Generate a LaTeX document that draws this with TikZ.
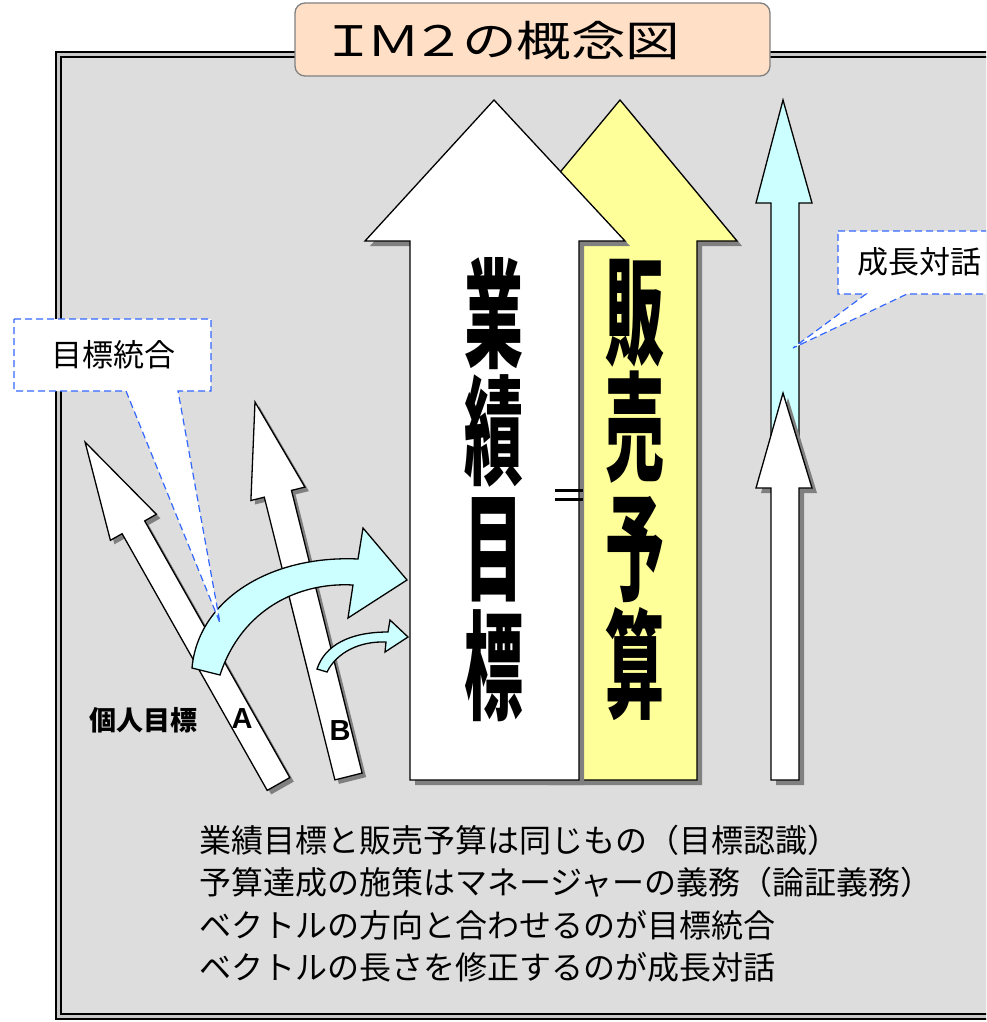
\documentclass[tikz,border=0pt]{standalone}
\usepackage{fontspec}
\setmainfont{Noto Sans CJK JP}
\newfontfamily\lat{Liberation Sans}
\usetikzlibrary{shadows}
\definecolor{bg}{RGB}{221,221,221}
\definecolor{gapc}{RGB}{200,200,200}
\definecolor{peach}{RGB}{255,224,198}
\definecolor{ylw}{RGB}{255,255,153}
\definecolor{cyn}{RGB}{204,255,255}
\definecolor{callblue}{RGB}{51,102,255}
\definecolor{shad}{RGB}{128,128,128}
\begin{document}
\begin{tikzpicture}[x=1pt,y=-1pt,
  arrowbody/.style={draw=black,line width=1.3pt,line join=miter,fill=white},
  withshadow/.style={general shadow={fill=shad,shadow xshift=5pt,shadow yshift=-5pt}},
  smallshadow/.style={general shadow={fill=shad,shadow xshift=4pt,shadow yshift=-4pt}},
  callout/.style={draw=callblue,dash pattern=on 7pt off 4pt,line width=1.2pt,fill=white},
  bigchar/.style={inner sep=0pt,font=\fontsize{118}{118}\selectfont\bfseries},
  linetxt/.style={inner sep=0pt,anchor=west,font=\fontsize{32}{32}\selectfont},
  calltxt/.style={inner sep=0pt,font=\fontsize{31}{31}\selectfont}
]
\useasboundingbox (0,0) rectangle (986,1022);
\clip (0,0) rectangle (986,1022);

% frame with double border
\fill[gapc] (56,52) rectangle (1010,1019);
\draw[line width=2.2pt] (56,52) rectangle (1010,1019);
\fill[bg] (61,57.5) rectangle (1005,1014);
\draw[line width=2pt] (61,57.5) rectangle (1005,1014);

% title
\node[draw=shad,line width=1.3pt,rounded corners=10pt,fill=peach,
      minimum width=475pt,minimum height=73pt,inner sep=0pt] (titlebox) at (532.5,39.5) {};
\node[inner sep=0pt] (titletext) at (501,41)
  {\scalebox{1.3}[1]{\fontsize{42}{42}\selectfont Ｉ\kern-7.5ptＭ\kern-7.5pt２\kern-3ptの概念図}};

% individual arrows A and B
\draw[arrowbody,smallshadow] (85.1,442.1) -- (156.4,514.3) -- (144.7,520.9) -- (289.8,777.6)
  -- (267.2,790.4) -- (122.1,533.7) -- (110.4,540.3) -- cycle;
\draw[arrowbody,smallshadow] (255.0,402.0) -- (304.9,487.1) -- (291.5,490.4) -- (362.1,773.1)
  -- (334.9,779.9) -- (264.3,497.2) -- (250.9,500.5) -- cycle;

% curved cyan arrows
\draw[arrowbody,fill=cyn] (192,668) .. controls (198,600) and (270,555) .. (358,559)
  -- (363,528) -- (407,580) -- (348,618) -- (353,585)
  .. controls (300,582) and (242,608) .. (220,675) -- cycle;
\draw[arrowbody,fill=cyn] (317,669) .. controls (325,645) and (350,632) .. (388,632)
  -- (390,620) -- (408,637) -- (385,652) -- (386,642)
  .. controls (360,641) and (337,652) .. (327,672) -- cycle;

% big arrows
\draw[arrowbody,fill=ylw,withshadow] (620,100) -- (737,241) -- (697,241) -- (697,780)
  -- (543,780) -- (543,241) -- (503,241) -- cycle;
\draw[arrowbody,withshadow] (494,100) -- (625,241) -- (579,241) -- (579,780)
  -- (410,780) -- (410,241) -- (365,241) -- cycle;

% equals sign
\draw[line width=2.6pt] (555,490.5) -- (583,490.5) (555,499.5) -- (583,499.5);

% right arrows
\draw[arrowbody,fill=cyn] (783,100) -- (812,203) -- (799,203) -- (799,470)
  -- (771,470) -- (771,203) -- (756,203) -- cycle;
\draw[arrowbody,withshadow] (783,393) -- (812,488) -- (799,488) -- (799,780)
  -- (771,780) -- (771,488) -- (756,488) -- cycle;

% vertical big texts
\node[bigchar] (g1) at (494,314) {\scalebox{0.5}[1]{業}};
\node[bigchar] (g2) at (494,431) {\scalebox{0.5}[1]{績}};
\node[bigchar] (g3) at (494,550) {\scalebox{0.5}[1]{目}};
\node[bigchar] (g4) at (494,666) {\scalebox{0.5}[1]{標}};
\node[bigchar] (h1) at (635,313) {\scalebox{0.5}[1]{販}};
\node[bigchar] (h2) at (635,427) {\scalebox{0.5}[1]{売}};
\node[bigchar] (h3) at (635,550) {\scalebox{0.5}[1]{予}};
\node[bigchar] (h4) at (635,664) {\scalebox{0.5}[1]{算}};

% callouts
\draw[callout] (14,319) -- (211,319) -- (211,391) -- (178,391) -- (220,623)
  -- (126,391) -- (14,391) -- cycle;
\node[calltxt] (c1) at (113,355) {目標統合};
\draw[callout] (838,231) -- (1000,231) -- (1000,294) -- (907,294) -- (793,348)
  -- (866,294) -- (838,294) -- cycle;
\node[calltxt,anchor=west] (c2) at (857,262) {成長対話};

% labels
\node[inner sep=0pt,font=\fontsize{27}{27}\selectfont\bfseries] (kojin) at (143,720) {個人目標};
\node[inner sep=0pt,font=\lat\fontsize{29}{29}\selectfont\bfseries] (la) at (242,719) {A};
\node[inner sep=0pt,font=\lat\fontsize{29}{29}\selectfont\bfseries] (lb) at (340,731) {B};

% bottom text
\node[linetxt] (t1) at (199,840) {業績目標と販売予算は同じもの（目標認識）};
\node[linetxt] (t2) at (199,882) {予算達成の施策はマネージャーの義務（論証義務）};
\node[linetxt] (t3) at (199,925) {ベクトルの方向と合わせるのが目標統合};
\node[linetxt] (t4) at (199,967) {ベクトルの長さを修正するのが成長対話};
\end{tikzpicture}
\end{document}
